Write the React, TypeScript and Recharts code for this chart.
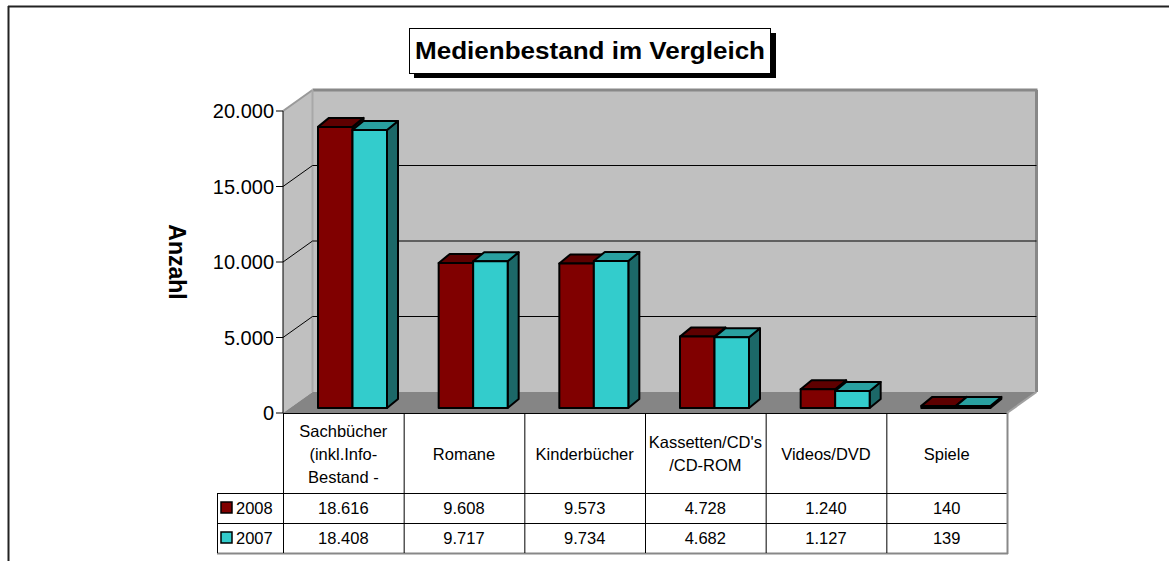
import { BarChart, Bar, XAxis, YAxis, CartesianGrid } from "recharts";

const categories = [
  "Sachbücher\n(inkl.Info-\nBestand -",
  "Romane",
  "Kinderbücher",
  "Kassetten/CD's\n/CD-ROM",
  "Videos/DVD",
  "Spiele",
];
const values2008 = [18616, 9608, 9573, 4728, 1240, 140];
const values2007 = [18408, 9717, 9734, 4682, 1127, 139];
const seriesNames = ["2008", "2007"];
const yTicks = [0, 5000, 10000, 15000, 20000];

const data = categories.map((c, i) => ({
  category: c,
  y2008: values2008[i],
  y2007: values2007[i],
}));

// layout
const W = 1169;
const H = 561;
const PL = 283;
const PR = 1007;
const PT = 111;
const PB = 413;
const DX = 29.5; // depth of the walls
const DY = -21;
const BAR_DX = 9; // bars stand a bit behind the front plane
const BAR_DY = -5;
const BOX_DX = 11; // depth of a bar
const BOX_DY = -9;
const ROW1 = 493;
const ROW2 = 523;
const ROW3 = 553;
const LEG_L = 217;

const colors = {
  y2008: { face: "#800000", top: "#5e0000", side: "#450000" },
  y2007: { face: "#33CCCC", top: "#29A0A0", side: "#1C6868" },
};

const fmt = (v: number) => String(v).replace(/\B(?=(\d{3})+(?!\d))/g, ".");

const Box3D = (props: any) => {
  const { x, y, width, height, face, top, side } = props;
  if (x == null || y == null) return null;
  const fx = x + BAR_DX;
  const fy = y + BAR_DY;
  const h = Math.max(height || 0, 0);
  return (
    <g stroke="#000" strokeWidth={2} strokeLinejoin="round">
      <polygon
        points={`${fx + width},${fy} ${fx + width + BOX_DX},${fy + BOX_DY} ${fx + width + BOX_DX},${fy + h + BOX_DY} ${fx + width},${fy + h}`}
        fill={side}
      />
      <polygon
        points={`${fx},${fy} ${fx + BOX_DX},${fy + BOX_DY} ${fx + width + BOX_DX},${fy + BOX_DY} ${fx + width},${fy}`}
        fill={top}
      />
      <rect x={fx} y={fy} width={width} height={h} fill={face} />
    </g>
  );
};

const CategoryTick = (props: any) => {
  const { x, payload, index } = props;
  const i = payload?.index ?? index;
  const lines = String(payload.value).split("\n");
  const cy = 454;
  return (
    <g fontSize={16.5} fill="#000">
      {lines.map((l, k) => (
        <text key={k} x={x} y={cy + (k - (lines.length - 1) / 2) * 23} dy="0.35em" textAnchor="middle">
          {l}
        </text>
      ))}
      <text x={x} y={(ROW1 + ROW2) / 2} dy="0.35em" textAnchor="middle">
        {fmt(values2008[i])}
      </text>
      <text x={x} y={(ROW2 + ROW3) / 2} dy="0.35em" textAnchor="middle">
        {fmt(values2007[i])}
      </text>
    </g>
  );
};

const gridLine = (p: any) => {
  const y = p.y1;
  if (Math.abs(y - PT) < 1 || Math.abs(y - PB) < 1) return <g key={p.key} />;
  return (
    <g key={p.key}>
      <line x1={p.x1} y1={y} x2={p.x1 + DX} y2={y + DY} stroke="#000" />
      <line x1={p.x1 + DX} y1={y + DY} x2={p.x2 + DX} y2={y + DY} stroke="#000" />
    </g>
  );
};

const Background = () => {
  const colW = (PR - PL) / categories.length;
  return (
    <svg width={W} height={H} style={{ position: "absolute", left: 0, top: 0 }}>
      {/* outer frame */}
      <line x1={8} y1={6.5} x2={W} y2={6.5} stroke="#222" strokeWidth={2} />
      <line x1={8.5} y1={6} x2={8.5} y2={H} stroke="#222" strokeWidth={2} />

      {/* title */}
      <rect x={414} y={33} width={362} height={45} fill="#000" />
      <rect x={409.5} y={28.5} width={361} height={45} fill="#fff" stroke="#000" />
      <text
        x={590}
        y={51}
        dy="0.35em"
        textAnchor="middle"
        fontSize={23}
        fontWeight="bold"
        textLength={350}
        lengthAdjust="spacingAndGlyphs"
      >
        Medienbestand im Vergleich
      </text>

      {/* walls and floor */}
      <polygon points={`${PL},${PT} ${PL + DX},${PT + DY} ${PL + DX},${PB + DY} ${PL},${PB}`} fill="#C0C0C0" />
      <rect x={PL + DX} y={PT + DY} width={PR - PL} height={PB - PT} fill="#C0C0C0" />
      <polygon
        points={`${PL},${PB} ${PL + DX},${PB + DY} ${PR + DX},${PB + DY} ${PR},${PB}`}
        fill="#858585"
      />
      <line x1={PL + DX} y1={PT + DY} x2={PR + DX + 1} y2={PT + DY} stroke="#888" strokeWidth={3} />
      <line x1={PR + DX} y1={PT + DY} x2={PR + DX} y2={PB + DY} stroke="#888" strokeWidth={3} />
      <line x1={PL} y1={PT} x2={PL + DX} y2={PT + DY} stroke="#999" strokeWidth={2} />
      <line x1={PL + DX} y1={PT + DY} x2={PL + DX} y2={PB + DY} stroke="#A8A8A8" strokeWidth={2} />
      <line x1={PR + DX} y1={PB + DY} x2={PR} y2={PB} stroke="#A0A0A0" strokeWidth={2} />

      {/* data table */}
      <line x1={PL} y1={PB + 0.5} x2={PR} y2={PB + 0.5} stroke="#000" />
      {[ROW1, ROW2].map((r) => (
        <line key={r} x1={LEG_L} y1={r + 0.5} x2={PR} y2={r + 0.5} stroke="#000" />
      ))}
      <line x1={LEG_L} y1={ROW3 + 0.5} x2={PR + 1} y2={ROW3 + 0.5} stroke="#888" strokeWidth={2} />
      <line x1={LEG_L + 0.5} y1={ROW1} x2={LEG_L + 0.5} y2={ROW3} stroke="#000" />
      {categories.map((_, i) => (
        <line
          key={i}
          x1={PL + i * colW + 0.5}
          y1={PB}
          x2={PL + i * colW + 0.5}
          y2={ROW3}
          stroke="#000"
        />
      ))}
      <line x1={PR + 0.5} y1={PB} x2={PR + 0.5} y2={ROW3 + 1} stroke="#888" strokeWidth={2} />

      {/* legend keys */}
      {seriesNames.map((name, k) => {
        const cy = k === 0 ? (ROW1 + ROW2) / 2 : (ROW2 + ROW3) / 2;
        const c = k === 0 ? colors.y2008.face : colors.y2007.face;
        return (
          <g key={name}>
            <rect x={221} y={cy - 6} width={11} height={11} fill={c} stroke="#000" strokeWidth={1.5} />
            <text x={236} y={cy} dy="0.35em" fontSize={16.5}>
              {name}
            </text>
          </g>
        );
      })}

      {/* axis title */}
      <text
        x={177}
        y={262}
        transform="rotate(90 177 262)"
        textAnchor="middle"
        dy="0.35em"
        fontSize={23}
        fontWeight="bold"
      >
        Anzahl
      </text>
    </svg>
  );
};

export default function App() {
  return (
    <div
      style={{
        position: "relative",
        width: W,
        height: H,
        fontFamily: '"Liberation Sans", Arial, sans-serif',
        background: "#fff",
      }}
    >
      <style>{"body{margin:0}"}</style>
      <Background />
      <div style={{ position: "absolute", left: 0, top: 0 }}>
        <BarChart
          width={W}
          height={H}
          data={data}
          margin={{ top: PT, right: W - PR, bottom: 0, left: PL - 60 }}
          barGap={0}
          barSize={34.5}
        >
          <CartesianGrid vertical={false} horizontal={gridLine} />
          <XAxis
            dataKey="category"
            axisLine={false}
            tickLine={false}
            height={H - PB}
            interval={0}
            tick={CategoryTick}
          />
          <YAxis
            width={60}
            domain={[0, 20000]}
            ticks={yTicks}
            tickFormatter={fmt}
            tickSize={7}
            tickMargin={2}
            axisLine={{ stroke: "#000" }}
            tickLine={{ stroke: "#000" }}
            tick={{ fill: "#000", fontSize: 20, fontFamily: '"Liberation Sans", Arial, sans-serif' }}
          />
          <Bar
            dataKey="y2008"
            name="2008"
            fill={colors.y2008.face}
            isAnimationActive={false}
            shape={(p: any) => <Box3D {...p} {...colors.y2008} />}
          />
          <Bar
            dataKey="y2007"
            name="2007"
            fill={colors.y2007.face}
            isAnimationActive={false}
            shape={(p: any) => <Box3D {...p} {...colors.y2007} />}
          />
        </BarChart>
      </div>
    </div>
  );
}
